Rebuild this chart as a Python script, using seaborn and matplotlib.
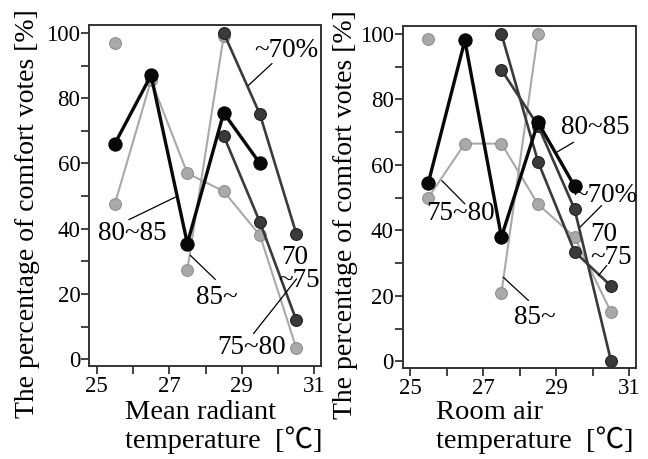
import numpy as np
import pandas as pd
import matplotlib
matplotlib.use("Agg")
import matplotlib.pyplot as plt
import seaborn as sns
from matplotlib.ticker import MultipleLocator

nan = np.nan
temps = [25.5, 26.5, 27.5, 28.5, 29.5, 30.5]
groups = ["~70%", "70~75", "75~80", "80~85", "85~"]

# Mean radiant temperature panel
mrt_to70 = [nan, nan, nan, 100, 75, 38.5]
mrt_70_75 = [nan, nan, nan, 68.5, 42, 12]
mrt_75_80 = [47.5, 85.5, 57, 51.5, 38, 3.5]
mrt_80_85 = [66, 87, 35.5, 75.5, 60, nan]
mrt_85up = [97, nan, 27.5, 99, nan, nan]

# Room air temperature panel
air_to70 = [nan, nan, 89, 72, 46.5, 0]
air_70_75 = [nan, nan, 100, 61, 33.5, 23]
air_75_80 = [50, 66.5, 66.5, 48, 38, 15]
air_80_85 = [54.5, 98, 38, 73, 53.5, nan]
air_85up = [98.5, nan, 21, 100, nan, nan]

x_ticks = [25, 27, 29, 31]
y_ticks = [0, 20, 40, 60, 80, 100]

panels = {
    "mrt": dict(zip(groups, [mrt_to70, mrt_70_75, mrt_75_80, mrt_80_85, mrt_85up])),
    "air": dict(zip(groups, [air_to70, air_70_75, air_75_80, air_80_85, air_85up])),
}

rows = []
for pname, series in panels.items():
    for g, vals in series.items():
        seg = 0
        prev_nan = True
        for t, v in zip(temps, vals):
            if np.isnan(v):
                prev_nan = True
                continue
            if prev_nan:
                seg += 1
            prev_nan = False
            rows.append(dict(panel=pname, group=g, seg=seg, temp=t, value=v))
df = pd.DataFrame(rows)

sns.set_style("ticks")
plt.rcParams["font.family"] = ["Liberation Serif", "Noto Sans CJK JP", "DejaVu Sans"]
plt.rcParams["text.color"] = "black"

styles = {
    "75~80": dict(color="#a9a9a9", lw=1.5, ms=8.5, mec="#909090"),
    "85~": dict(color="#a9a9a9", lw=1.5, ms=8.5, mec="#909090"),
    "70~75": dict(color="#3a3a3a", lw=1.9, ms=8.5, mec="#202020"),
    "~70%": dict(color="#3a3a3a", lw=1.9, ms=8.5, mec="#202020"),
    "80~85": dict(color="#080808", lw=2.4, ms=9.5, mec="#000000"),
}
order = ["75~80", "85~", "70~75", "~70%", "80~85"]

fig = plt.figure(figsize=(6.48, 4.59), dpi=100)
W, H = 648, 459
ax1 = fig.add_axes([89.3 / W, 1 - 366 / H, (321 - 89.3) / W, (366 - 25) / H])
ax2 = fig.add_axes([402.7 / W, 1 - 368 / H, (636 - 402.7) / W, (368 - 26) / H])

for ax, pname in [(ax1, "mrt"), (ax2, "air")]:
    sub = df[df.panel == pname]
    for g in order:
        gd = sub[sub.group == g]
        st = styles[g]
        sns.lineplot(data=gd, x="temp", y="value", units="seg", estimator=None,
                     sort=False, ax=ax, color=st["color"], lw=st["lw"],
                     marker="o", markersize=st["ms"], markeredgecolor=st["mec"],
                     markeredgewidth=0.8, legend=False)
    ax.set_xlim(24.8, 31.18)
    ax.set_ylim(-2.0, 102.4)
    ax.set_xticks(x_ticks)
    ax.set_xticklabels([str(t) for t in x_ticks])
    ax.xaxis.set_minor_locator(MultipleLocator(1))
    ax.set_yticks(y_ticks)
    ax.set_yticklabels([str(t) for t in y_ticks])
    ax.yaxis.set_minor_locator(MultipleLocator(10))
    ax.tick_params(which="both", direction="out", length=6, width=1.2, color="#222222",
                   labelsize=16.5, labelcolor="black")
    ax.tick_params(axis="y", pad=0.5)
    ax.tick_params(axis="x", pad=1.5)
    ax.set_xlabel("")
    ax.set_ylabel("")
    for s in ax.spines.values():
        s.set_visible(True)
        s.set_linewidth(1.4)
        s.set_color("#333333")

FS = 19.5
LW = 0.9

def label(ax, txt, pos, leader=None):
    ax.text(pos[0], pos[1], txt, ha="center", va="center", fontsize=FS, zorder=6,
            color="black")
    if leader is not None:
        ax.annotate("", xy=leader[1], xytext=leader[0],
                    arrowprops=dict(arrowstyle="-", color="black", lw=LW,
                                    shrinkA=0, shrinkB=0), zorder=6)

# left panel annotations
label(ax1, "~70%", (30.22, 94.7), ((29.83, 90.6), (29.18, 83.9)))
label(ax1, "80~85", (25.98, 38.5), ((25.89, 42.8), (27.17, 49.7)))
label(ax1, "85~", (28.32, 19.1), ((28.27, 24.5), (27.58, 31.9)))
label(ax1, "70", (30.47, 31.2))
label(ax1, "~75", (30.58, 24.2), ((30.51, 24.7), (30.08, 18.6)))
label(ax1, "75~80", (29.28, 3.8), ((29.32, 7.9), (30.08, 18.6)))

# right panel annotations
label(ax2, "80~85", (30.06, 71.4), ((29.47, 66.9), (28.97, 63.6)))
label(ax2, "~70%", (30.34, 50.7), ((30.24, 47.6), (29.65, 41.0)))
label(ax2, "70", (30.31, 38.8))
label(ax2, "~75", (30.50, 31.7), ((30.38, 29.3), (30.15, 26.2)))
label(ax2, "75~80", (26.37, 45.1), ((26.50, 48.1), (25.87, 55.2)))
label(ax2, "85~", (28.42, 13.5), ((28.24, 18.6), (27.55, 25.7)))

ylab = "The percentage of comfort votes [%]"
fig.text(28 / W, 1 - 214 / H, ylab, rotation=90, ha="center", va="center", fontsize=20)
fig.text(346 / W, 1 - 215 / H, ylab, rotation=90, ha="center", va="center", fontsize=20)

fig.text(125 / W, 1 - 400 / H, "Mean radiant\ntemperature  [℃]", ha="left", va="top",
         fontsize=20.5, linespacing=1.05)
fig.text(436 / W, 1 - 400 / H, "Room air\ntemperature  [℃]", ha="left", va="top",
         fontsize=20.5, linespacing=1.05)

fig.savefig("out.png", dpi=100)
